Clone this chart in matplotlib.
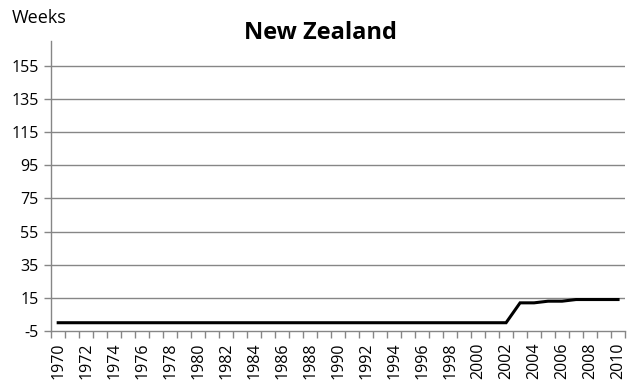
import numpy as np
import matplotlib as mpl
mpl.use('Agg')
import matplotlib.pyplot as plt

plt.rcParams['font.family'] = ['Open Sans', 'DejaVu Sans']

years = list(range(1970, 2011))
weeks = [0] * 33 + [12, 12, 13, 13, 14, 14, 14, 14]
y_ticks = [-5, 15, 35, 55, 75, 95, 115, 135, 155]

fig = plt.figure(figsize=(6.32, 3.84), dpi=100)
ax = fig.add_axes([0.081, 0.138, 0.908, 0.755])

x = np.arange(len(years))
ax.plot(x, weeks, color='black', lw=2.2, solid_joinstyle='miter', zorder=3)

ax.set_xlim(-0.5, len(years) - 0.5)
ax.set_ylim(-5, 170)

grid_c = '#868686'
ax.set_yticks(y_ticks)
ax.set_yticklabels([str(v) for v in y_ticks], fontsize=11.5)
for v in y_ticks[1:]:
    ax.axhline(v, color=grid_c, lw=1.0, zorder=1)

# category labels every other year, tick marks between categories
ax.set_xticks(x[::2])
ax.set_xticklabels([str(y) for y in years[::2]], rotation=90, fontsize=11.5)
ax.set_xticks(np.arange(-0.5, len(years)), minor=True)
ax.tick_params(axis='x', which='major', length=0, pad=8)
ax.tick_params(axis='x', which='minor', length=5, color=grid_c, width=1)
ax.tick_params(axis='y', length=5, color=grid_c, width=1, pad=4)

for side in ['top', 'right']:
    ax.spines[side].set_visible(False)
for side in ['left', 'bottom']:
    ax.spines[side].set_color(grid_c)
    ax.spines[side].set_linewidth(1.0)

fig.text(0.507, 0.915, 'New Zealand', ha='center', va='center',
         fontsize=17, fontweight='bold')
fig.text(0.019, 0.953, 'Weeks', ha='left', va='center', fontsize=13)

fig.savefig('out.png', dpi=100)
